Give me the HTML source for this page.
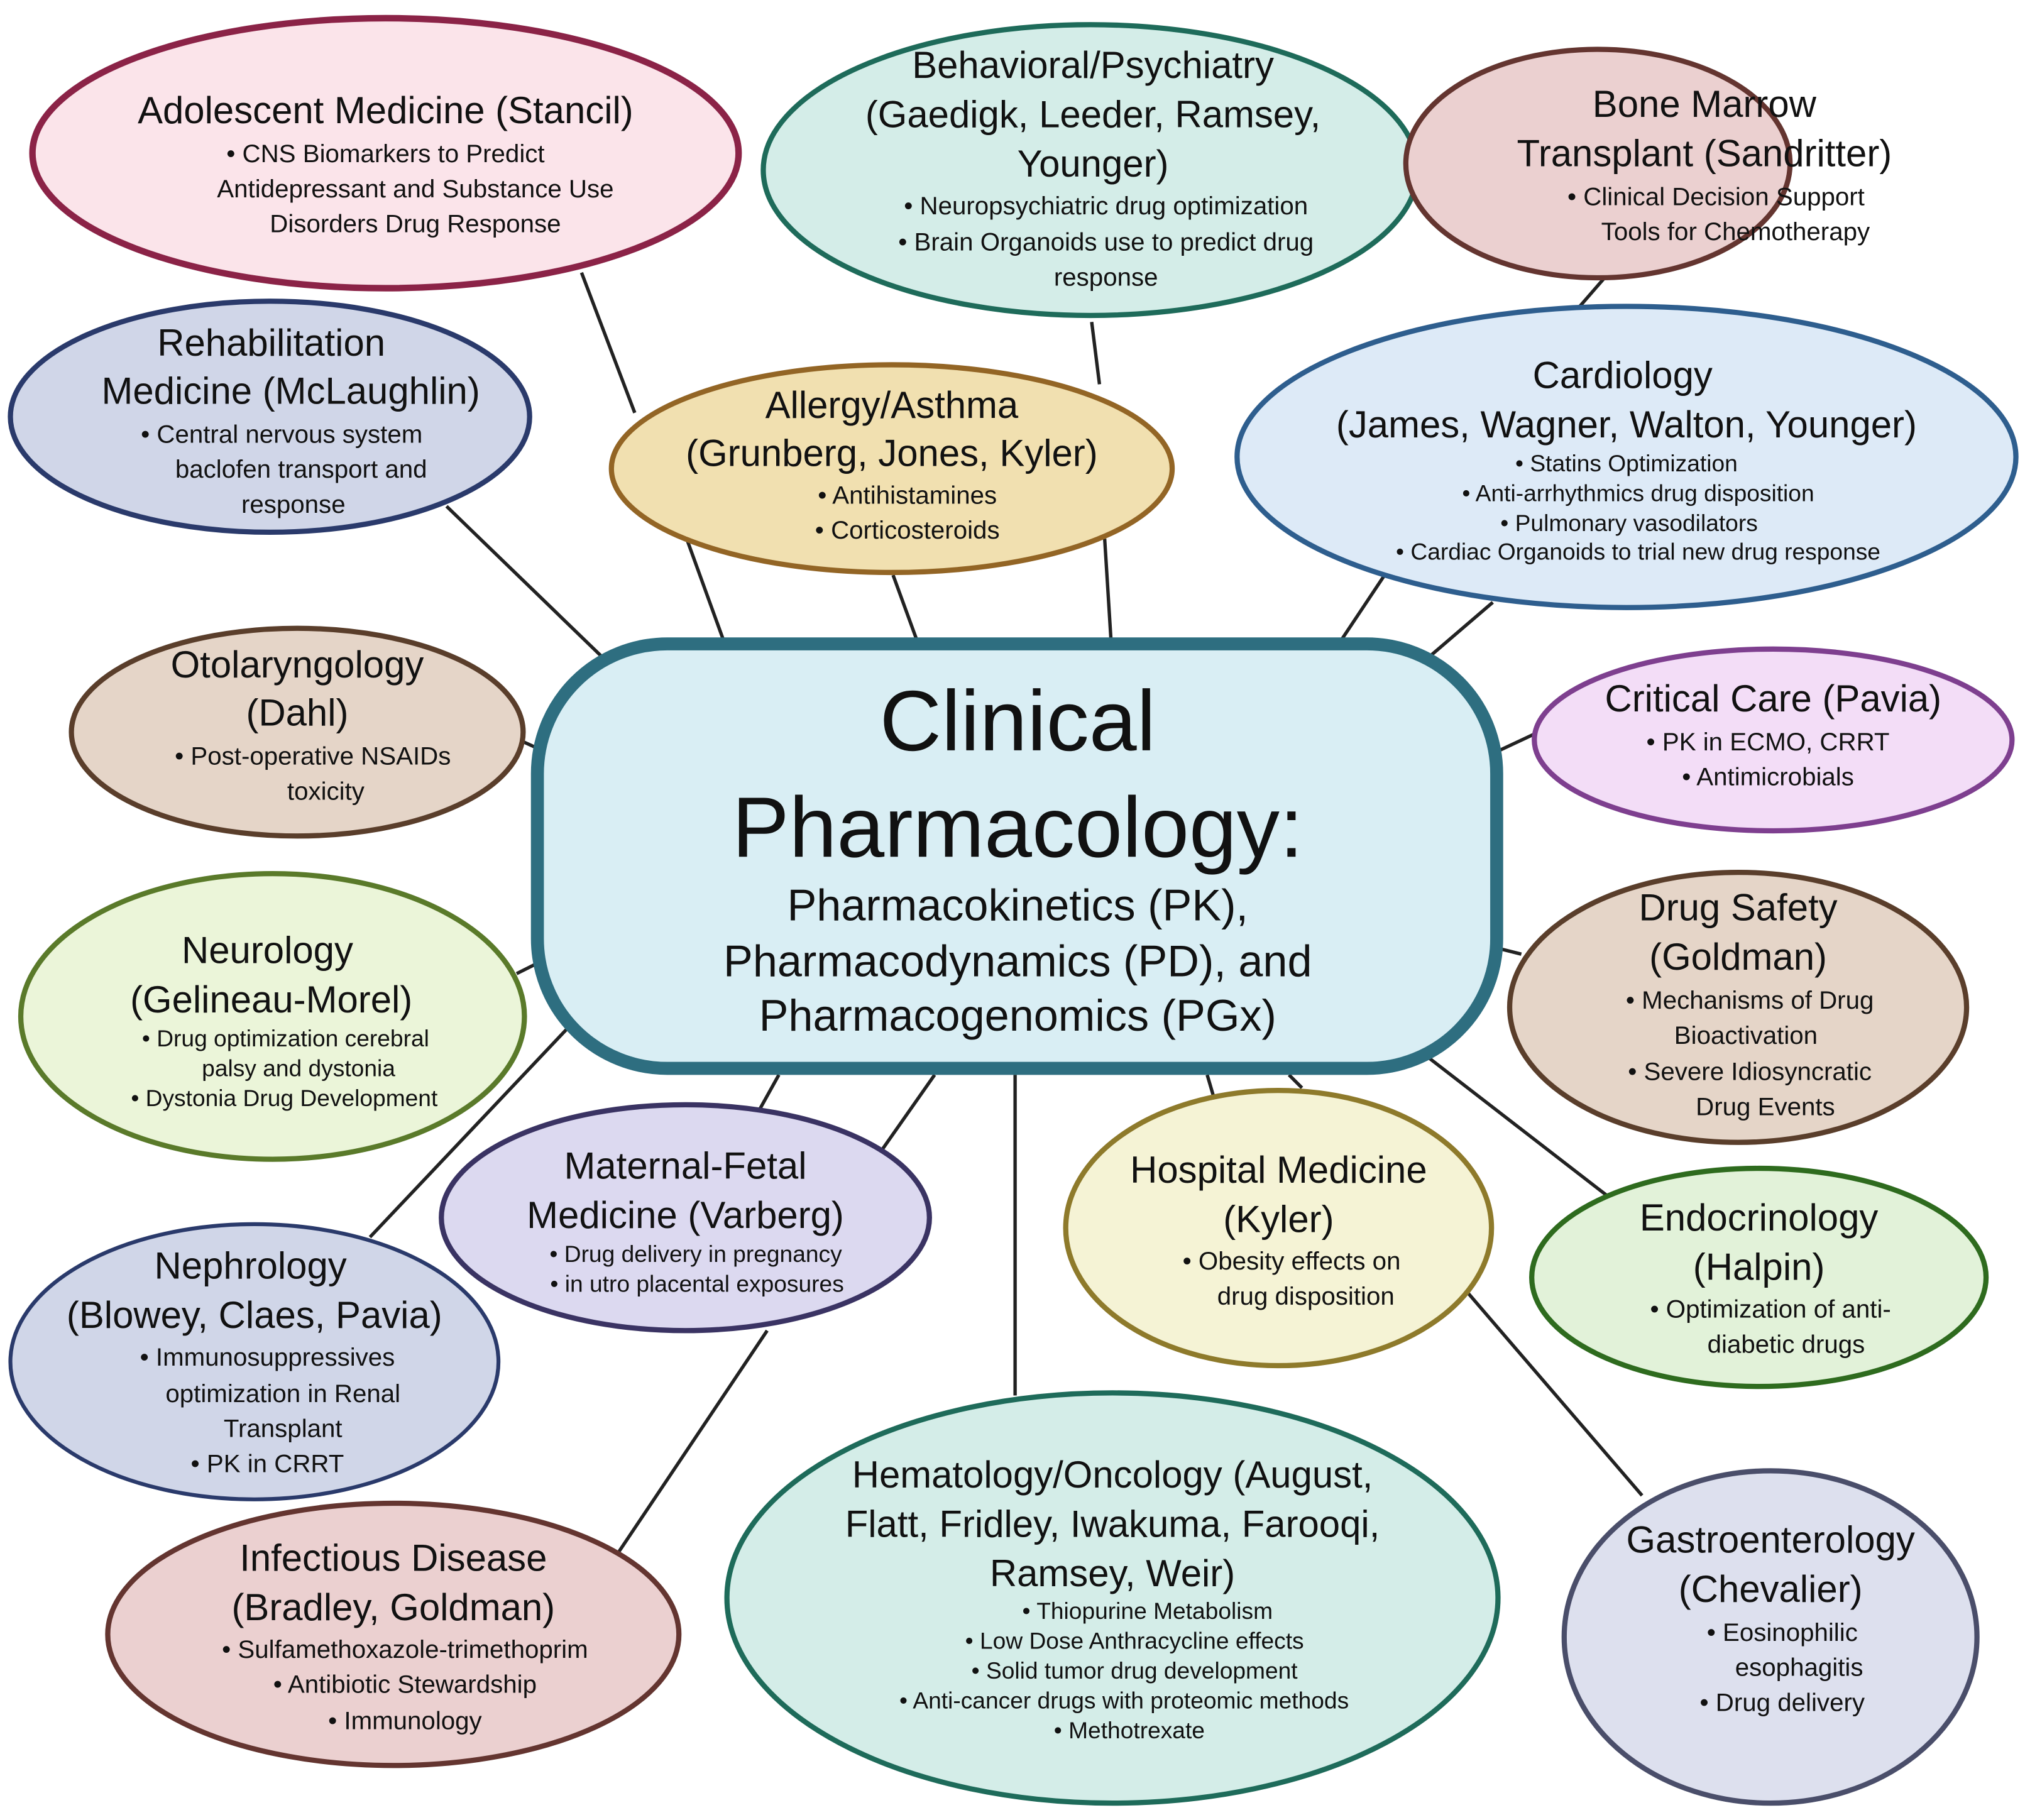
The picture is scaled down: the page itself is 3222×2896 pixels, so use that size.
<!DOCTYPE html>
<html><head><meta charset="utf-8"><style>
html,body{margin:0;padding:0;background:#fff;}
svg{display:block;}
text{font-family:"Liberation Sans",sans-serif;fill:#111;text-anchor:middle;}
.h{font-size:29px;}
.b{font-size:19.5px;}
.s{font-size:18px;}
</style></head><body>
<svg width="3222" height="2896" viewBox="0 0 1560 1402" preserveAspectRatio="none" xmlns="http://www.w3.org/2000/svg">
<g stroke="#222" stroke-width="2.6">
<line x1="448" y1="210" x2="489" y2="318"/>
<line x1="529" y1="415" x2="558" y2="495"/>
<line x1="688" y1="443" x2="707" y2="495"/>
<line x1="841" y1="248" x2="847" y2="296"/>
<line x1="851" y1="415" x2="856" y2="495"/>
<line x1="1237" y1="213" x2="1217" y2="236"/>
<line x1="1066" y1="444" x2="1032" y2="495"/>
<line x1="1150" y1="464" x2="1094" y2="512"/>
<line x1="344" y1="390" x2="470" y2="512"/>
<line x1="400" y1="570" x2="422" y2="580"/>
<line x1="1151" y1="580" x2="1183" y2="565"/>
<line x1="398" y1="750" x2="422" y2="738"/>
<line x1="1152" y1="730" x2="1172" y2="735"/>
<line x1="443" y1="786" x2="285" y2="953"/>
<line x1="600" y1="828" x2="585" y2="855"/>
<line x1="720" y1="828" x2="680" y2="885"/>
<line x1="782" y1="828" x2="782" y2="1075"/>
<line x1="930" y1="828" x2="935" y2="845"/>
<line x1="993" y1="828" x2="1003" y2="838"/>
<line x1="1097" y1="812" x2="1238" y2="921"/>
<line x1="1130" y1="995" x2="1265" y2="1152"/>
<line x1="591" y1="1025" x2="477" y2="1195"/>
</g>
<g stroke-width="4">
<ellipse cx="297" cy="118" rx="272" ry="104" fill="#fbe4ea" stroke="#8b2347" stroke-width="5"/>
<ellipse cx="840" cy="131" rx="252" ry="112" fill="#d4ede8" stroke="#1e6b5a"/>
<ellipse cx="1231" cy="126" rx="148" ry="88" fill="#ebd0d0" stroke="#643530"/>
<ellipse cx="208" cy="321" rx="200" ry="89" fill="#d0d6e8" stroke="#2a3a6b"/>
<ellipse cx="687" cy="361" rx="216" ry="80" fill="#f1e0b0" stroke="#936525"/>
<ellipse cx="1253" cy="352" rx="300" ry="116" fill="#ddeaf7" stroke="#2e5e8e"/>
<ellipse cx="229" cy="564" rx="174" ry="80" fill="#e5d5c8" stroke="#5a3e2b"/>
<ellipse cx="1366" cy="570" rx="184" ry="70" fill="#f3ddf7" stroke="#7e3f8f"/>
<ellipse cx="210" cy="783" rx="194" ry="110" fill="#ebf5d9" stroke="#5a7a2a"/>
<ellipse cx="1339" cy="776" rx="176" ry="104" fill="#e5d5c8" stroke="#5a3e2b"/>
<ellipse cx="528" cy="938" rx="188" ry="87" fill="#dcd9f0" stroke="#3a3363"/>
<ellipse cx="985" cy="946" rx="164" ry="106" fill="#f5f3d5" stroke="#8e7a2b"/>
<ellipse cx="1355" cy="984" rx="175" ry="84" fill="#e2f2d9" stroke="#2e6b1e"/>
<ellipse cx="196" cy="1049" rx="188" ry="106" fill="#d0d6e8" stroke="#2a3a6b" stroke-width="3"/>
<ellipse cx="303" cy="1259" rx="220" ry="101" fill="#ebd0d0" stroke="#643530"/>
<ellipse cx="857" cy="1231" rx="297" ry="158" fill="#d4ede8" stroke="#1e6b5a"/>
<ellipse cx="1364" cy="1261" rx="159" ry="128" fill="#dde0ee" stroke="#4a4e6a"/>
</g>
<rect x="414" y="496" width="739" height="327" rx="100" fill="#d9eef4" stroke="#2e6e80" stroke-width="10"/>
<text x="784" y="578" style="font-size:66px">Clinical</text>
<text x="784" y="660" style="font-size:66px">Pharmacology:</text>
<text x="784" y="709" style="font-size:34px">Pharmacokinetics (PK),</text>
<text x="784" y="752" style="font-size:34px">Pharmacodynamics (PD), and</text>
<text x="784" y="794" style="font-size:34px">Pharmacogenomics (PGx)</text>

<text class="h" x="297" y="95">Adolescent Medicine (Stancil)</text>
<text class="b" x="297" y="125">•  CNS Biomarkers to Predict</text>
<text class="b" x="320" y="152">Antidepressant and Substance Use</text>
<text class="b" x="320" y="179">Disorders Drug Response</text>

<text class="h" x="842" y="60">Behavioral/Psychiatry</text>
<text class="h" x="842" y="98">(Gaedigk, Leeder, Ramsey,</text>
<text class="h" x="842" y="136">Younger)</text>
<text class="b" x="852" y="165">•  Neuropsychiatric drug optimization</text>
<text class="b" x="852" y="193">•  Brain Organoids use to predict drug</text>
<text class="b" x="852" y="220">response</text>

<text class="h" x="1313" y="90">Bone Marrow</text>
<text class="h" x="1313" y="128">Transplant (Sandritter)</text>
<text class="b" x="1322" y="158">•  Clinical Decision Support</text>
<text class="b" x="1337" y="185">Tools for Chemotherapy</text>

<text class="h" x="209" y="274">Rehabilitation</text>
<text class="h" x="224" y="311">Medicine (McLaughlin)</text>
<text class="b" x="217" y="341">•  Central nervous system</text>
<text class="b" x="232" y="368">baclofen transport and</text>
<text class="b" x="226" y="395">response</text>

<text class="h" x="687" y="322">Allergy/Asthma</text>
<text class="h" x="687" y="359">(Grunberg, Jones, Kyler)</text>
<text class="b" x="699" y="388">•  Antihistamines</text>
<text class="b" x="699" y="415">•  Corticosteroids</text>

<text class="h" x="1250" y="299">Cardiology</text>
<text class="h" x="1253" y="337">(James, Wagner, Walton, Younger)</text>
<text class="s" x="1253" y="363">•  Statins Optimization</text>
<text class="s" x="1262" y="386">•  Anti-arrhythmics drug disposition</text>
<text class="s" x="1255" y="409">•  Pulmonary vasodilators</text>
<text class="s" x="1262" y="431">•  Cardiac Organoids to trial new drug response</text>

<text class="h" x="229" y="522">Otolaryngology</text>
<text class="h" x="229" y="559">(Dahl)</text>
<text class="b" x="241" y="589">•  Post-operative NSAIDs</text>
<text class="b" x="251" y="616">toxicity</text>

<text class="h" x="1366" y="548">Critical Care (Pavia)</text>
<text class="b" x="1362" y="578">•  PK in ECMO, CRRT</text>
<text class="b" x="1362" y="605">•  Antimicrobials</text>

<text class="h" x="206" y="742">Neurology</text>
<text class="h" x="209" y="780">(Gelineau-Morel)</text>
<text class="s" x="220" y="806">•  Drug optimization cerebral</text>
<text class="s" x="230" y="829">palsy and dystonia</text>
<text class="s" x="219" y="852">•  Dystonia Drug Development</text>

<text class="h" x="1339" y="709">Drug Safety</text>
<text class="h" x="1339" y="747">(Goldman)</text>
<text class="b" x="1348" y="777">•  Mechanisms of Drug</text>
<text class="b" x="1345" y="804">Bioactivation</text>
<text class="b" x="1348" y="832">•  Severe Idiosyncratic</text>
<text class="b" x="1360" y="859">Drug Events</text>

<text class="h" x="528" y="908">Maternal-Fetal</text>
<text class="h" x="528" y="946">Medicine (Varberg)</text>
<text class="s" x="536" y="972">•  Drug delivery in pregnancy</text>
<text class="s" x="537" y="995">•  in utro placental exposures</text>

<text class="h" x="985" y="911">Hospital Medicine</text>
<text class="h" x="985" y="949">(Kyler)</text>
<text class="b" x="995" y="978">•  Obesity effects on</text>
<text class="b" x="1006" y="1005">drug disposition</text>

<text class="h" x="1355" y="948">Endocrinology</text>
<text class="h" x="1355" y="986">(Halpin)</text>
<text class="b" x="1364" y="1015">•  Optimization of anti-</text>
<text class="b" x="1376" y="1042">diabetic drugs</text>

<text class="h" x="193" y="985">Nephrology</text>
<text class="h" x="196" y="1023">(Blowey, Claes, Pavia)</text>
<text class="b" x="206" y="1052">•  Immunosuppressives</text>
<text class="b" x="218" y="1080">optimization in Renal</text>
<text class="b" x="218" y="1107">Transplant</text>
<text class="b" x="206" y="1134">•  PK in CRRT</text>

<text class="h" x="303" y="1210">Infectious Disease</text>
<text class="h" x="303" y="1248">(Bradley, Goldman)</text>
<text class="b" x="312" y="1277">•  Sulfamethoxazole-trimethoprim</text>
<text class="b" x="312" y="1304">•  Antibiotic Stewardship</text>
<text class="b" x="312" y="1332">•  Immunology</text>

<text class="h" x="857" y="1146">Hematology/Oncology (August,</text>
<text class="h" x="857" y="1184">Flatt, Fridley, Iwakuma, Farooqi,</text>
<text class="h" x="857" y="1222">Ramsey, Weir)</text>
<text class="s" x="884" y="1247">•  Thiopurine Metabolism</text>
<text class="s" x="874" y="1270">•  Low Dose Anthracycline effects</text>
<text class="s" x="874" y="1293">•  Solid tumor drug development</text>
<text class="s" x="866" y="1316">•  Anti-cancer drugs with proteomic methods</text>
<text class="s" x="870" y="1339">•  Methotrexate</text>

<text class="h" x="1364" y="1196">Gastroenterology</text>
<text class="h" x="1364" y="1234">(Chevalier)</text>
<text class="b" x="1373" y="1264">•  Eosinophilic</text>
<text class="b" x="1386" y="1291">esophagitis</text>
<text class="b" x="1373" y="1318">•  Drug delivery</text>
</svg>
</body></html>
